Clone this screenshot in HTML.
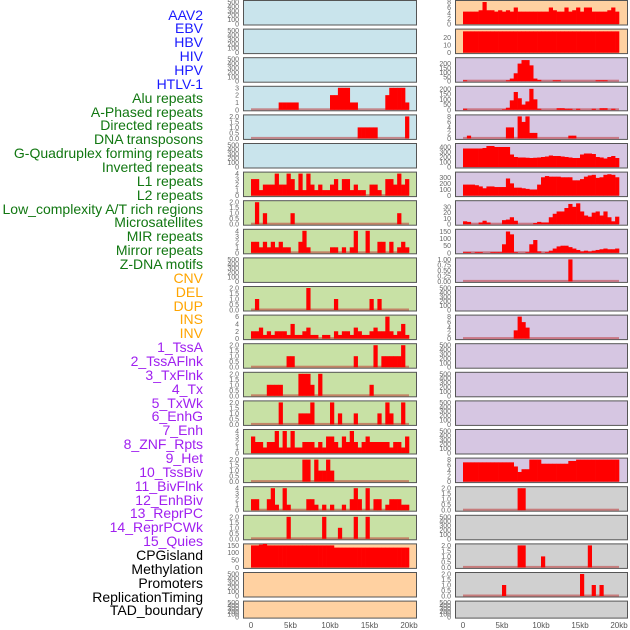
<!DOCTYPE html>
<html><head><meta charset="utf-8">
<style>
html,body{margin:0;padding:0;background:#fff;}
#wrap{position:relative;width:630px;height:630px;overflow:hidden;font-family:"Liberation Sans",sans-serif;}
.lab{position:absolute;right:427px;font-size:14px;line-height:14px;white-space:nowrap;}
</style></head>
<body>
<div id="wrap">
<svg id="svg" width="630" height="630" style="position:absolute;left:0;top:0"></svg>
</div>
<script>
// ---- track labels ----
const labels = ["AAV2","EBV","HBV","HIV","HPV","HTLV-1","Alu repeats","A-Phased repeats","Directed repeats","DNA transposons","G-Quadruplex forming repeats","Inverted repeats","L1 repeats","L2 repeats","Low_complexity A/T rich regions","Microsatellites","MIR repeats","Mirror repeats","Z-DNA motifs","CNV","DEL","DUP","INS","INV","1_TssA","2_TssAFlnk","3_TxFlnk","4_Tx","5_TxWk","6_EnhG","7_Enh","8_ZNF_Rpts","9_Het","10_TssBiv","11_BivFlnk","12_EnhBiv","13_ReprPC","14_ReprPCWk","15_Quies","CPGisland","Methylation","Promoters","ReplicationTiming","TAD_boundary"];
const labelGroups = [6,13,5,15,5];
// ---- x axis ticks ----
const xTickKb = [0,5,10,15,20];
const xTickLabels = ["0","5kb","10kb","15kb","20kb"];
// ---- y tick sets ----
const tEmpty = [0,100,200,300,400,500];
const t3 = [0,1,2,3];
const t2 = [0,0.5,1.0,1.5,2.0];
const t4 = [0,1,2,3,4];
const t6 = [0,2,4,6];
const t8 = [0,2,4,6,8];
// ---- series (40 bins of 500bp, 0-20kb) ----
const L3 = [0,0,0,0,0,0,0,1,1,1,1,1,0,0,0,0,0,0,0,0,2,2,3,3,3,1,1,0,0,0,0,0,0,0,2,3,3,3,3,1];
const L4 = [0,0,0,0,0,0,0,0,0,0,0,0,0,0,0,0,0,0,0,0,0,0,0,0,0,0,0,1,1,1,1,1,0,0,0,0,0,0,0,2];
const L6 = [3,3,1,2,2,2,4,2,2,4,3,1,4,1,4,2,1,2,1,1,2,3,1,3,3,1,2,1,1,0,2,2,1,0,3,3,2,4,2,3];
const L7 = [0,2,0,1,0,0,0,0,0,0,1,0,0,0,0,0,0,0,0,0,0,0,0,0,0,0,0,0,0,0,0,0,0,0,0,0,0,1,0,0];
const L8 = [2,2,1,2,1,2,1,2,1,1,0,0,2,4,1,0,0,0,0,0,1,1,0,1,0,1,4,0,0,4,0,0,2,2,0,2,0,1,2,1];
const L10 = [0,1,0,0,0,0,0,0,0,0,0,0,0,0,2,0,0,0,0,0,0,1,0,0,0,0,0,0,0,0,1,0,1,0,0,0,0,0,0,0];
const L11 = [2,2,3,1,2,1,2,2,2,1,4,1,1,2,3,1,1,0,1,1,0,2,1,2,2,1,3,2,1,1,2,3,2,2,6,2,1,2,4,1];
const L12 = [0,0,0,0,0,0,0,0,0,1,1,0,0,0,0,0,0,0,0,0,0,0,0,0,0,0,1,0,0,0,0,2,0,1,1,1,1,1,2,0];
const L13 = [0,0,0,0,1,1,1,1,0,0,0,0,2,2,2,1,0,2,0,0,0,0,0,0,0,0,0,0,0,0,1,0,0,0,0,0,0,0,0,0];
const L14 = [0,0,0,0,0,0,0,2,0,0,0,0,1,1,1,2,0,0,0,0,2,0,1,0,0,0,1,0,0,0,0,0,1,0,2,1,0,0,2,0];
const L15 = [3,2,2,1,2,2,4,1,4,1,4,1,1,2,2,2,1,2,1,3,3,2,1,3,2,4,2,1,2,3,2,2,2,2,2,1,2,2,1,3];
const L16 = [0,0,0,0,0,0,0,0,0,0,0,0,0,2,2,0,2,1,1,2,1,0,0,0,0,0,0,0,0,0,0,0,0,0,0,0,0,0,0,0];
const L17 = [2,2,0,0,2,4,1,0,4,1,0,0,0,0,2,2,1,0,1,0,1,0,0,1,0,2,4,2,0,4,0,2,2,0,1,2,2,2,1,1];
const L18 = [0,0,0,0,0,0,0,0,0,2,0,0,0,0,0,0,0,0,2,0,0,0,1,0,0,0,2,0,0,2,0,0,0,0,0,0,0,0,0,0];
const L19 = [150,150,155,160,150,150,150,150,150,150,150,150,150,150,150,150,150,150,150,150,150,135,135,135,135,135,135,135,135,135,135,135,135,135,135,135,135,135,135,135];
const R0 = [4.5,4.5,4.5,4.5,5,8,5,5,4.5,5,4.5,5,4.5,6,4.5,4.5,4.5,4.5,4.5,4.5,4.5,4.5,6,5,4.5,4.5,6,4.5,5,6,4.5,6,6,4.5,4.5,4.5,4.5,5,6,4.5];
const R1 = [28,28,28,28,28,28,28,28,28,28,28,28,28,28,28,28,28,28,28,28,28,28,28,28,28,28,28,28,28,28,28,28,28,28,28,28,28,28,28,28];
const R2 = [10,0,0,0,0,0,0,0,0,0,0,10,30,90,200,240,240,180,30,15,0,0,0,10,10,0,0,0,0,0,0,0,0,0,10,10,10,0,0,0];
const R3 = [10,0,0,0,0,0,0,0,0,0,5,20,90,170,110,50,80,200,100,10,0,0,0,0,15,15,10,10,0,10,0,0,0,10,0,15,15,0,10,0];
const R4 = [0,1,0,0,0,0,0,0,0,0,0,4,4,0,8,6,8,2,2,0,0,0,0,0,0,0,0,1,1,0,0,0,0,0,0,0,0,0,0,0];
const R5 = [370,370,370,370,370,380,420,420,400,400,400,400,250,200,190,190,185,180,185,190,200,210,230,220,220,210,200,190,180,180,250,270,270,260,200,190,170,200,220,180];
const R6 = [180,180,180,170,150,120,150,150,140,140,140,280,200,130,130,120,110,100,100,180,300,320,310,310,310,300,300,300,250,250,270,310,330,340,290,300,340,350,340,300];
const R7 = [5,4,0,0,3,6,3,0,0,0,7,8,12,6,0,0,0,0,2,4,3,3,12,18,22,22,28,35,30,36,22,15,13,20,22,15,22,12,5,13];
const R8 = [5,5,0,5,5,0,0,5,5,5,60,150,130,5,0,0,5,60,90,10,0,5,15,30,45,50,50,40,30,20,10,15,10,15,20,25,30,25,25,30];
const R9 = [0,0,0,0,0,0,0,0,0,0,0,0,0,0,0,0,0,0,0,0,0,0,0,0,0,0,0,1,0,0,0,0,0,0,0,0,0,0,0,0];
const R11 = [0,0,0,0,0,0,0,0,0,0,0,0,0,3,8,6,4,0,0,0,0,0,0,0,0,0,0,0,0,0,0,0,0,0,0,0,0,0,0,0];
const R16 = [7,7,7,7,7,7,7,7,7,7,7,7,7,5.5,3.5,4.5,4.5,8,8,8,6.5,6.5,6.5,6.5,6.5,6.5,6.5,7.5,7.5,8,8,8,8,8,8,8,8,8,8,8];
const R17 = [0,0,0,0,0,0,0,0,0,0,0,0,0,0,2,2,0,0,0,0,0,0,0,0,0,0,0,0,0,0,0,0,0,0,0,0,0,0,0,0];
const R19 = [0,0,0,0,0,0,0,0,0,0,0,0,0,0,2,2,0,0,0,0,1,0,0,0,0,0,0,0,0,0,0,0,2,0,0,0,0,0,0,0];
const R20 = [0,0,0,0,0,0,0,0,0,0,1,0,0,0,0,0,0,0,0,0,0,0,0,0,0,0,0,0,0,0,2,0,0,1,0,1,0,0,0,0];

const BLUE="#c9e4ec",GREEN="#c8e1a5",ORANGE="#ffd1a1",LAV="#d6c6e2",GRAY="#d0d0d0";
const leftCol = [
 [BLUE,null,tEmpty],[BLUE,null,tEmpty],[BLUE,null,tEmpty],[BLUE,L3,t3],[BLUE,L4,t2],[BLUE,null,tEmpty],
 [GREEN,L6,t4],[GREEN,L7,t2],[GREEN,L8,t4],[GREEN,null,tEmpty],[GREEN,L10,t2],[GREEN,L11,t6],
 [GREEN,L12,t2],[GREEN,L13,t2],[GREEN,L14,t2],[GREEN,L15,t4],[GREEN,L16,t2],[GREEN,L17,t4],[GREEN,L18,t2],
 [ORANGE,L19,[0,50,100,150]],[ORANGE,null,tEmpty],[ORANGE,null,tEmpty]];
const rightCol = [
 [ORANGE,R0,t8],[ORANGE,R1,[0,10,20],29],[LAV,R2,[0,50,100,150,200],250],[LAV,R3,[0,50,100,150,200],210],[LAV,R4,t8],
 [LAV,R5,[0,100,200,300,400],440],[LAV,R6,[0,100,200,300],360],[LAV,R7,[0,10,20,30],38],[LAV,R8,[0,50,100,150],155],
 [LAV,R9,[0,0.25,0.5,0.75,1.0]],[LAV,null,tEmpty],[LAV,R11,t8],[LAV,null,tEmpty],[LAV,null,tEmpty],[LAV,null,tEmpty],[LAV,null,tEmpty],
 [LAV,R16,t8],[GRAY,R17,t2],[GRAY,null,tEmpty],[GRAY,R19,t2],[GRAY,R20,t2],[GRAY,null,tEmpty]];

const svg=document.getElementById('svg');
const NS="http://www.w3.org/2000/svg";
function mk(tag,attrs){const e=document.createElementNS(NS,tag);for(const k in attrs)e.setAttribute(k,attrs[k]);svg.appendChild(e);return e;}
const cols=[{x:243,w:173,x0:251,k:7.9,tx:239,data:leftCol},{x:455,w:172,x0:463,k:7.8,tx:451,data:rightCol}];
cols.forEach((c,ci)=>{
  c.data.forEach((p,i)=>{
    const top=i*28.6+0.5, h=(i===21)?17:24.5;
    const r=mk('rect',{x:c.x+0.5,y:top,width:c.w,height:h,fill:p[0],stroke:'#555','stroke-width':1});
    
    
    const ticks=p[2];
    const ymax=p[3]||ticks[ticks.length-1];
    const yb=top+h-1, yt=top+1.5;
    const ys=v=>yb-(v/ymax)*(yb-yt);
    ticks.forEach(t=>{
      const tt=mk('text',{x:c.tx,y:ys(t)+2.5,'font-size':7,fill:'#666','text-anchor':'end'});
      tt.textContent=(ticks===t2)?t.toFixed(1):(ticks[ticks.length-1]===1?t.toFixed(2):String(t));
      
      
    });
    const vals=p[1];
    if(vals){
      const bl=mk('rect',{x:c.x0,y:yb-1.5,width:20*c.k,height:2,fill:'rgba(190,40,40,0.5)'});
      
      
      const bw=0.5*c.k;
      vals.forEach((v,bi)=>{
        if(v<=0)return;
        const y=ys(v);
        const b=mk('rect',{x:c.x0+bi*bw,y:y,width:bw+0.3,height:yb-y,fill:'#ff0000'});
        
        
      });
    }
  });
  xTickKb.forEach((kb,j)=>{
    const t=mk('text',{x:c.x0+kb*c.k,y:628,'font-size':8,fill:'#555','text-anchor':'middle'});
    t.textContent=xTickLabels[j];
    
    
  });
});
// labels
const colors=["#1a1aff","#117711","#ffa500","#a020f0","#000000"];
const wrap=document.getElementById('wrap');
let gi=0,cnt=0;
labels.forEach((l,k)=>{
  while(cnt>=labelGroups[gi]){cnt-=labelGroups[gi];gi++;}
  cnt++;
  const d=document.createElement('div');
  d.className='lab';
  d.style.top=(15+k*13.86-7.5)+'px';
  d.style.color=colors[gi];
  d.textContent=l;
  
  
  wrap.appendChild(d);
});
</script>
</body></html>
